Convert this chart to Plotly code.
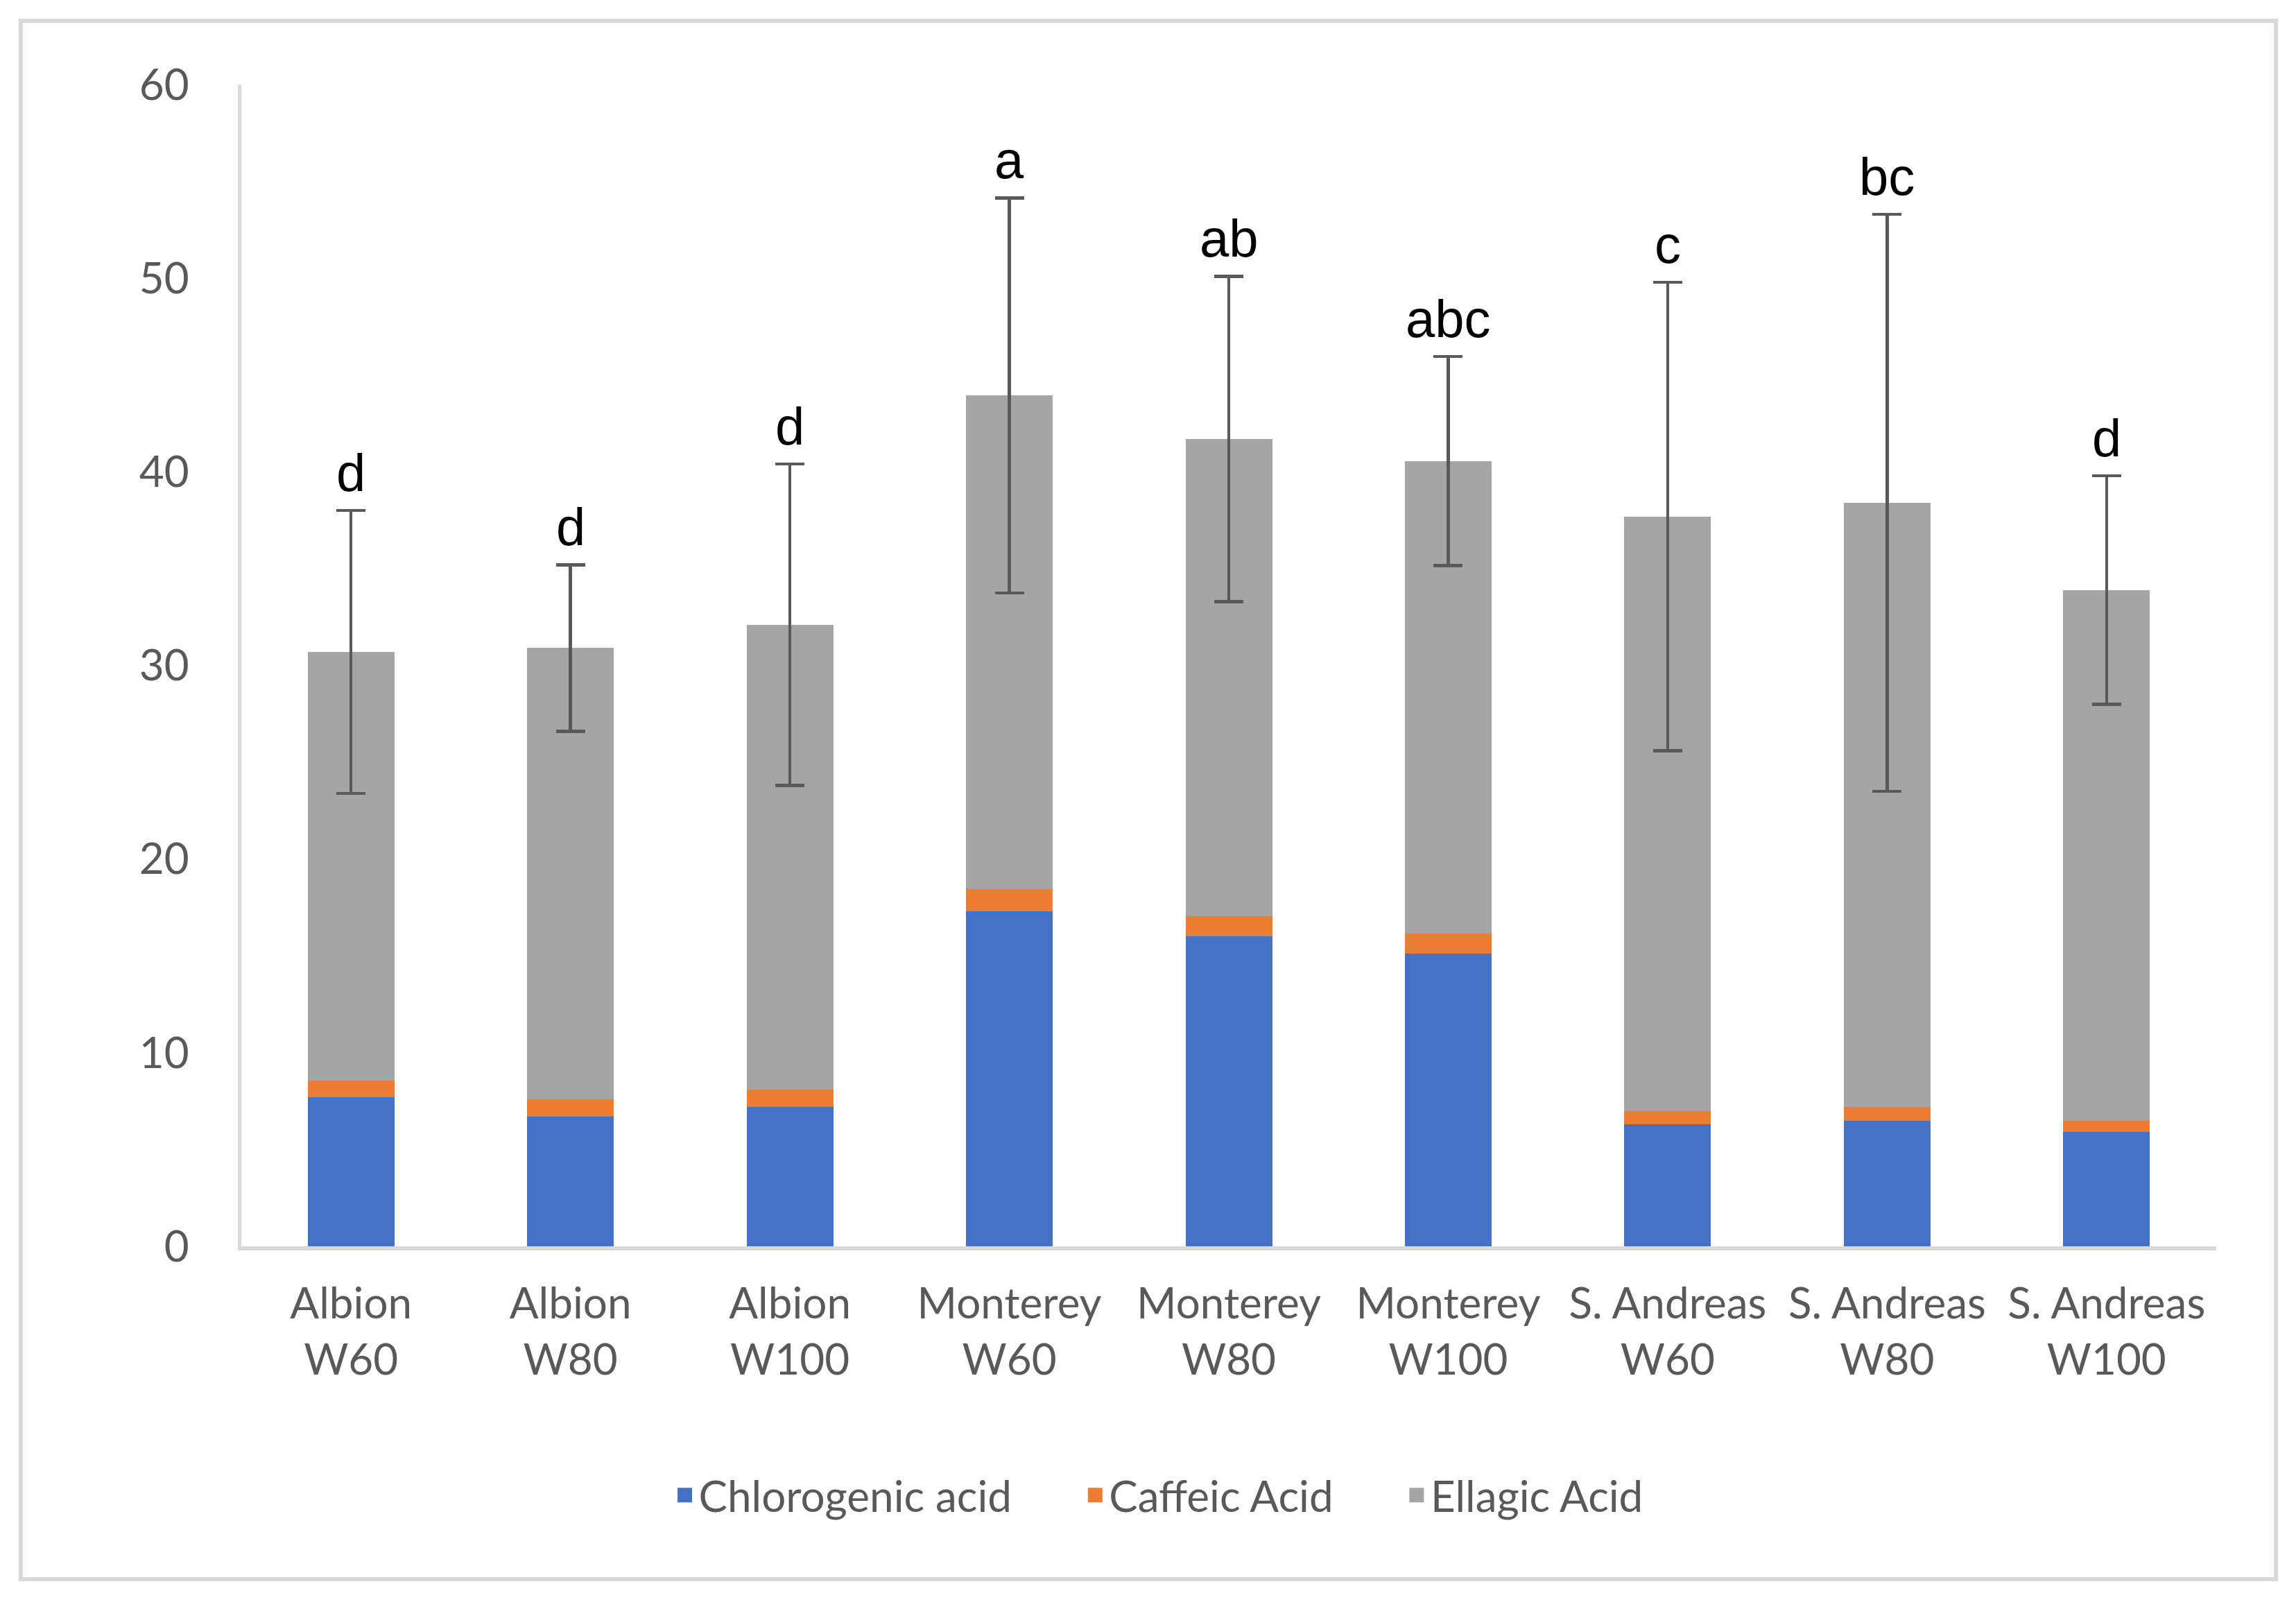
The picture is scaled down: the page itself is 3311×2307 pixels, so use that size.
import plotly.graph_objects as go

categories = ["Albion<br>W60", "Albion<br>W80", "Albion<br>W100",
              "Monterey<br>W60", "Monterey<br>W80", "Monterey<br>W100",
              "S. Andreas<br>W60", "S. Andreas<br>W80", "S. Andreas<br>W100"]
chlorogenic = [7.7, 6.7, 7.2, 17.3, 16.0, 15.1, 6.3, 6.5, 5.9]
caffeic = [0.85, 0.9, 0.9, 1.15, 1.05, 1.05, 0.7, 0.7, 0.6]
ellagic = [22.15, 23.3, 24.0, 25.5, 24.65, 24.4, 30.7, 31.2, 27.4]
total_error = [7.3, 4.3, 8.3, 10.2, 8.4, 5.4, 12.1, 14.9, 5.9]
letters = ["d", "d", "d", "a", "ab", "abc", "c", "bc", "d"]
series_names = ["Chlorogenic acid", "Caffeic Acid", "Ellagic Acid"]
series_colors = ["#4472C4", "#ED7D31", "#A5A5A5"]
yticks = [0, 10, 20, 30, 40, 50, 60]

OFF = 8  # default page body margin
W, H = 3311 - 2 * OFF, 2307 - 2 * OFF
L, R, T, B = 348 - OFF, 3196 - OFF, 122 - OFF, 1797 - OFF
pw, ph = R - L, B - T

font_family = "Lato, 'Open Sans', sans-serif"
grey_text = "#595959"
FS = 62
pad = "\u00a0" * 6

fig = go.Figure()
values = [chlorogenic, caffeic, ellagic]
for i, (name, col, vals) in enumerate(zip(series_names, series_colors, values)):
    kw = {}
    if i == 2:
        kw["error_y"] = dict(type="data", array=total_error, visible=True,
                             color="#595959", thickness=4.5, width=21)
    fig.add_trace(go.Bar(x=categories, y=vals, name=name, legendgroup=name,
                         showlegend=False,
                         marker=dict(color=col, line=dict(width=0)), **kw))

# legend entries (square swatches)
for i, (name, col) in enumerate(zip(series_names, series_colors)):
    fig.add_trace(go.Scatter(x=[None], y=[None], mode="markers",
                             name=name + (pad if i < 2 else ""), legendgroup=name,
                             marker=dict(symbol="square", size=16, color=col,
                                         line=dict(color=col, width=5)),
                             hoverinfo="skip"))

totals = [a + b + c for a, b, c in zip(chlorogenic, caffeic, ellagic)]
for cat, tot, err, lab in zip(categories, totals, total_error, letters):
    fig.add_annotation(x=cat, y=tot + err, text=lab, showarrow=False,
                       xanchor="center", yanchor="bottom", yshift=10,
                       font=dict(family="Liberation Sans, Arial, sans-serif", size=76, color="black"))

# outer border
fig.add_shape(type="rect", xref="paper", yref="paper",
              x0=(30 - OFF - L) / pw, x1=(3282 - OFF - L) / pw,
              y0=(B - (2277 - OFF)) / ph, y1=(B - (30 - OFF)) / ph,
              line=dict(color="#d9d9d9", width=6), fillcolor="rgba(0,0,0,0)", layer="below")

fig.update_layout(
    width=W, height=H,
    margin=dict(l=L, r=W - R, t=T, b=H - B, autoexpand=False),
    barmode="stack", bargap=0.605,
    plot_bgcolor="white", paper_bgcolor="white",
    font=dict(family=font_family, size=FS, color=grey_text),
    showlegend=True,
    legend=dict(orientation="h", x=(1671 - OFF - L) / pw, xanchor="center",
                y=(B - (2156 - OFF)) / ph, yanchor="middle",
                font=dict(family=font_family, size=FS, color=grey_text),
                itemsizing="trace", tracegroupgap=0, traceorder="normal"),
    xaxis=dict(showline=True, linecolor="#d9d9d9", linewidth=6, showgrid=False,
               ticks="", tickfont=dict(size=FS, color=grey_text),
               ticklabelstandoff=24),
    yaxis=dict(range=[0, 60], tickvals=yticks, showline=True, linecolor="#d9d9d9",
               linewidth=5, showgrid=False, zeroline=False, ticks="",
               tickfont=dict(size=FS, color=grey_text), ticklabelstandoff=58),
)

fig.write_html("out.html")
